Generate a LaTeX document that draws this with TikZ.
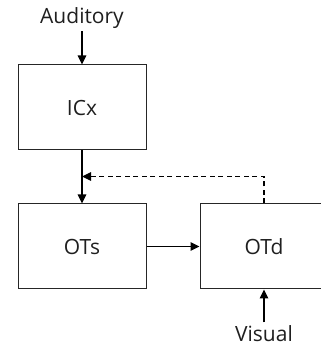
\documentclass[tikz,border=0pt]{standalone}
\usepackage{fontspec}
\setmainfont{Open Sans}
\usetikzlibrary{arrows.meta,positioning}
\tikzset{
  blk/.style={draw=black!85,line width=1pt,minimum width=128pt,minimum height=85pt,
              inner sep=0pt,text=black!88,font=\fontsize{21}{25}\selectfont},
  lbl/.style={inner sep=2.5pt,text=black!88,font=\fontsize{21}{25}\selectfont},
  arr/.style={-{Triangle[length=9pt,width=8.5pt]},line width=1.1pt},
  arrdash/.style={arr,dash pattern=on 5pt off 3.5pt},
}
\begin{document}
\begin{tikzpicture}[node distance=53pt and 53pt]
  \useasboundingbox (0,0) rectangle (321pt,349pt);
  \node[blk] (ICx) at (82pt,241.5pt) {ICx};
  \node[blk,below=of ICx] (OTs) {OTs};
  \node[blk,right=of OTs] (OTd) {OTd};

  \node[lbl,above=33pt of ICx] (AUD) {Auditory};
  \node[lbl,below=33pt of OTd] (VIS) {Visual};

  \coordinate[above=27pt of OTs.north] (FB);

  % Inputs
  \draw[arr] (AUD.south) -- (ICx.north);
  \draw[arr] (VIS.north) -- (OTd.south);

  % Main path
  \draw[arr] (ICx.south) -- (OTs.north);
  \draw[arr] (OTs.east) -- (OTd.west);

  % Feedback
  \draw[arrdash] (OTd.north) |- (FB);
\end{tikzpicture}
\end{document}
